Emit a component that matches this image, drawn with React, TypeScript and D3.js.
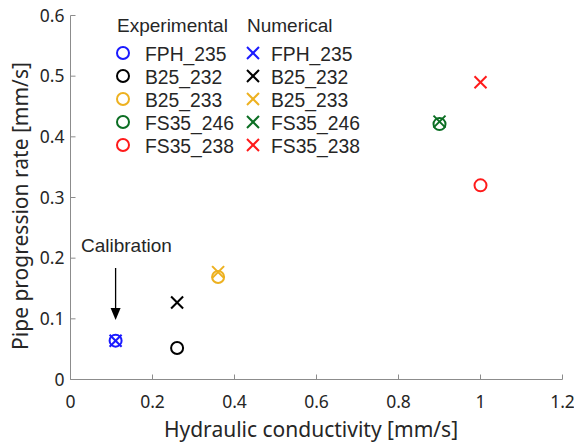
import React from "react";
import * as d3 from "d3";

const seriesNames = ["FPH_235", "B25_232", "B25_233", "FS35_246", "FS35_238"];
const seriesColors = ["#1a1aff", "#000000", "#edb120", "#0b6e23", "#ff1a1a"];
const conductivity = [0.11, 0.26, 0.36, 0.90, 1.0];
const experimental = [0.064, 0.052, 0.169, 0.421, 0.32];
const numerical = [0.064, 0.127, 0.177, 0.425, 0.49];
const xTicks = [0, 0.2, 0.4, 0.6, 0.8, 1, 1.2];
const yTicks = [0, 0.1, 0.2, 0.3, 0.4, 0.5, 0.6];
const xTickLabels = ["0", "0.2", "0.4", "0.6", "0.8", "1", "1.2"];
const yTickLabels = ["0", "0.1", "0.2", "0.3", "0.4", "0.5", "0.6"];

const W = 574, H = 444;
const left = 70.5, right = 562.5, top = 15.5, bottom = 379.5;
const axisColor = "#8c8c8c";
const textColor = "#262626";
const tickFont = "'Noto Sans', sans-serif";
const legendFont = "'Liberation Sans', Arial, sans-serif";

function Cross({ x, y, c }: { x: number; y: number; c: string }) {
  const s = 6;
  return (
    <g stroke={c} strokeWidth={2}>
      <line x1={x - s} y1={y - s} x2={x + s} y2={y + s} />
      <line x1={x - s} y1={y + s} x2={x + s} y2={y - s} />
    </g>
  );
}

export default function App() {
  const x = d3.scaleLinear().domain([0, 1.2]).range([left, right]);
  const y = d3.scaleLinear().domain([0, 0.6]).range([bottom, top]);
  const legY = (i: number) => 53 + i * 23;
  return (
    <svg width={W} height={H} style={{ position: "absolute", left: 0, top: 0, background: "#fff" }}>
      {/* axes */}
      <line x1={left} y1={top} x2={left} y2={bottom} stroke={axisColor} strokeWidth={1} />
      <line x1={left} y1={bottom} x2={right} y2={bottom} stroke={axisColor} strokeWidth={1} />
      {xTicks.map((t, i) => (
        <g key={"x" + i}>
          <line x1={x(t)} y1={bottom} x2={x(t)} y2={bottom - 5} stroke={axisColor} />
          <text x={x(t)} y={bottom + 28.5} textAnchor="middle" fontFamily={tickFont} fontSize={17.5} fill={textColor}>
            {xTickLabels[i]}
          </text>
        </g>
      ))}
      {yTicks.map((t, i) => (
        <g key={"y" + i}>
          <line x1={left} y1={y(t)} x2={left + 5} y2={y(t)} stroke={axisColor} />
          <text x={left - 6} y={y(t) + 6.3} textAnchor="end" fontFamily={tickFont} fontSize={17.5} fill={textColor}>
            {yTickLabels[i]}
          </text>
        </g>
      ))}
      <text x={311} y={437} textAnchor="middle" fontFamily={tickFont} fontSize={21} fill={textColor}>
        Hydraulic conductivity [mm/s]
      </text>
      <text transform={`translate(28,206) rotate(-90)`} textAnchor="middle" fontFamily={tickFont} fontSize={21} fill={textColor}>
        Pipe progression rate [mm/s]
      </text>

      {/* data */}
      {seriesNames.map((n, i) => (
        <g key={n}>
          <circle cx={x(conductivity[i])} cy={y(experimental[i])} r={6} fill="none" stroke={seriesColors[i]} strokeWidth={2} />
          <Cross x={x(conductivity[i])} y={y(numerical[i])} c={seriesColors[i]} />
        </g>
      ))}

      {/* calibration annotation */}
      <text x={81} y={252} fontFamily={legendFont} fontSize={19} fill={textColor}>Calibration</text>
      <line x1={x(conductivity[0])} y1={268} x2={x(conductivity[0])} y2={310} stroke="#000" strokeWidth={1.3} />
      <path d={`M${x(conductivity[0]) - 5},${308} L${x(conductivity[0]) + 5},${308} L${x(conductivity[0])},${320} Z`} fill="#000" />

      {/* legend */}
      <text x={117} y={32} fontFamily={legendFont} fontSize={19} fill={textColor}>Experimental</text>
      <text x={247} y={32} fontFamily={legendFont} fontSize={19} fill={textColor}>Numerical</text>
      {seriesNames.map((n, i) => (
        <g key={"l" + n}>
          <circle cx={123} cy={legY(i)} r={6} fill="none" stroke={seriesColors[i]} strokeWidth={2} />
          <text x={145} y={legY(i) + 7.5} fontFamily={legendFont} fontSize={19.3} fill={textColor}>{n}</text>
          <Cross x={253} y={legY(i)} c={seriesColors[i]} />
          <text x={271} y={legY(i) + 7.5} fontFamily={legendFont} fontSize={19.3} fill={textColor}>{n}</text>
        </g>
      ))}
    </svg>
  );
}
